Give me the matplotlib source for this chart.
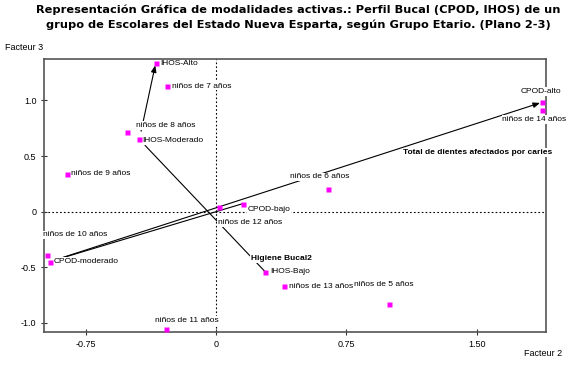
import numpy as np
import matplotlib
matplotlib.use("Agg")
import matplotlib.pyplot as plt

plt.rcParams['font.family'] = ['Liberation Sans', 'DejaVu Sans']

# categories and coordinates on the factorial plane (Facteur 2, Facteur 3)
names = ["IHOS-Alto", "niños de 7 años", "niños de 8 años", "IHOS-Moderado",
         "niños de 9 años", "niños de 12 años", "CPOD-bajo", "niños de 6 años",
         "niños de 10 años", "CPOD-moderado", "niños de 11 años", "IHOS-Bajo",
         "niños de 13 años", "niños de 5 años", "CPOD-alto", "niños de 14 años"]
f2 = [-0.347, -0.282, -0.511, -0.441, -0.856, 0.017, 0.153, 0.642,
      -0.969, -0.956, -0.289, 0.282, 0.391, 0.994, 1.874, 1.874]
f3 = [1.333, 1.128, 0.713, 0.650, 0.341, 0.045, 0.072, 0.204,
      -0.389, -0.449, -1.051, -0.539, -0.668, -0.827, 0.983, 0.917]

xticks = [-0.75, 0, 0.75, 1.5]
xtick_labels = ["-0.75", "0", "0.75", "1.50"]
yticks = [-1.0, -0.5, 0, 0.5, 1.0]
ytick_labels = ["-1.0", "-0.5", "0", "0.5", "1.0"]

# ordinal trajectories: (variable title, ordered categories)
traj_cpod = ("Total de dientes afectados por caries", ["CPOD-bajo", "CPOD-moderado", "CPOD-alto"])
traj_ihos = ("Higiene Bucal2", ["IHOS-Bajo", "IHOS-Moderado", "IHOS-Alto"])

# label placement (pixel offsets from the point, horizontal alignment)
lab_off = {
    "IHOS-Alto": (4.5, -0.5, 'left'), "niños de 7 años": (5, 0, 'left'),
    "niños de 8 años": (9, 7, 'left'), "IHOS-Moderado": (3, -1, 'left'),
    "niños de 9 años": (4, 0, 'left'), "niños de 12 años": (-1, -16, 'left'),
    "CPOD-bajo": (5, -6, 'left'), "niños de 6 años": (-8, 12, 'center'),
    "niños de 10 años": (-4.6, 20, 'left'), "CPOD-moderado": (3.5, 0, 'left'),
    "niños de 11 años": (21, 8, 'center'), "IHOS-Bajo": (5, 0, 'left'),
    "niños de 13 años": (5, 0, 'left'), "niños de 5 años": (-5.5, 19.4, 'center'),
    "CPOD-alto": (-1.5, 11, 'center'), "niños de 14 años": (-7.5, -10, 'center'),
}

fig = plt.figure(figsize=(5.76, 3.68), dpi=100)
ax = fig.add_axes([44/576, 1-332/368, 502/576, 273/368])
ax.set_xlim(-0.989, 1.897)
ax.set_ylim(-1.081, 1.372)

ax.axhline(0, color='black', lw=0.8, ls=(0, (1.5, 2)), zorder=1)
ax.axvline(0, color='black', lw=0.8, ls=(0, (1.5, 2)), zorder=1)

pos = {n: (x, y) for n, x, y in zip(names, f2, f3)}

def draw_traj(cats):
    a, b, c = [pos[k] for k in cats]
    ax.annotate("", xy=b, xytext=a,
                arrowprops=dict(arrowstyle='-', lw=0.8, color='black',
                                shrinkA=0, shrinkB=6))
    ax.annotate("", xy=c, xytext=b,
                arrowprops=dict(arrowstyle='-|>,head_length=0.4,head_width=0.16',
                                lw=0.8, color='black', shrinkA=6, shrinkB=1.5),
                zorder=2)
    return a, c

a, c = draw_traj(traj_ihos[1])
ax.annotate(traj_ihos[0], xy=a, xytext=(-14.3, 13.4), textcoords='offset pixels',
            ha='left', va='center', fontsize=6, fontweight='bold',
            bbox=dict(boxstyle='square,pad=0.1', fc='white', ec='none'), zorder=4)
a, c = draw_traj(traj_cpod[1])
ax.annotate(traj_cpod[0], xy=c, xytext=(10, -50), textcoords='offset pixels',
            ha='right', va='center', fontsize=6, fontweight='bold',
            bbox=dict(boxstyle='square,pad=0.1', fc='white', ec='none'),
            zorder=4, annotation_clip=False)

ax.plot(f2, f3, 's', color='#ff00ff', ms=3.6, mec='none', zorder=5, clip_on=False)

for n, x, y in zip(names, f2, f3):
    dx, dy, ha = lab_off[n]
    ax.annotate(n, xy=(x, y), xytext=(dx, dy), textcoords='offset pixels',
                ha=ha, va='center', fontsize=6,
                bbox=dict(boxstyle='square,pad=0.1', fc='white', ec='none'),
                zorder=4, annotation_clip=False)

for s in ax.spines.values():
    s.set_color('#555555')
    s.set_linewidth(1.2)
ax.set_xticks(xticks)
ax.set_xticklabels(xtick_labels)
ax.set_yticks(yticks)
ax.set_yticklabels(ytick_labels)
ax.tick_params(direction='inout', length=5, width=0.8, color='#333333',
               labelsize=6.5, pad=3)

fig.text(5/576, 1-47/368, "Facteur 3", fontsize=6.5, ha='left', va='center')
fig.text(562/576, 1-353/368, "Facteur 2", fontsize=6.5, ha='right', va='center')

fig.text(298/576, 1-10/368,
         "Representación Gráfica de modalidades activas.: Perfil Bucal (CPOD, IHOS) de un",
         fontsize=8.2, fontweight='bold', family='DejaVu Sans', ha='center', va='center')
fig.text(298/576, 1-25/368,
         "grupo de Escolares del Estado Nueva Esparta, según Grupo Etario. (Plano 2-3)",
         fontsize=8.2, fontweight='bold', family='DejaVu Sans', ha='center', va='center')

fig.savefig("out.png", dpi=100)
